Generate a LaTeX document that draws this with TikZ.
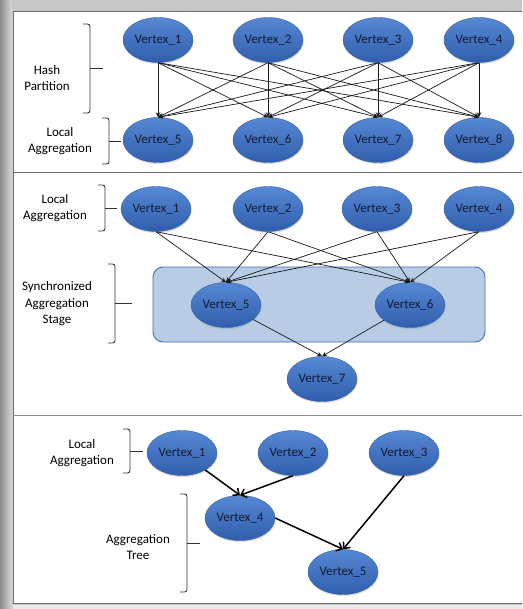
\documentclass[tikz,border=0pt]{standalone}
\usepackage{fontspec}
\setmainfont{Carlito}
\usetikzlibrary{arrows.meta,shapes.geometric,shadows}
\definecolor{vertextop}{RGB}{86,136,212}
\definecolor{vertexbottom}{RGB}{48,94,172}
\definecolor{vertexline}{RGB}{56,96,160}
\definecolor{vertextext}{RGB}{18,26,52}
\definecolor{stagefill}{RGB}{184,204,230}
\definecolor{stageline}{RGB}{70,112,170}
\definecolor{framegray}{RGB}{110,110,110}
\tikzset{
  vertex/.style={
    ellipse,
    minimum width=70pt,
    minimum height=45pt,
    inner sep=0pt,
    top color=vertextop,
    bottom color=vertexbottom,
    draw=vertexline,
    line width=0.4pt,
    text=vertextext,
    font=\fontsize{13}{15}\selectfont,
    drop shadow={opacity=0.25,shadow xshift=0.6pt,shadow yshift=-1.6pt}
  },
  thin-edge/.style={
    line width=0.7pt,
    black!90,
    -{Stealth[length=5pt,width=4.5pt]}
  },
  thick-edge/.style={
    line width=1.5pt,
    black,
    -{Straight Barb[length=5pt,width=9pt,line width=1.5pt]}
  },
  side-label/.style={
    align=center,
    inner sep=0pt,
    font=\fontsize{13}{16.5}\selectfont
  },
  bracket/.style={
    line width=0.9pt,
    black!80,
    rounded corners=2.5pt
  }
}
% bracket: x, top, bottom, tick end
\newcommand{\sidebracket}[4]{%
  \draw[bracket] (#1-7,#2) -- (#1,#2) -- (#1,#3) -- (#1-7,#3);
  \draw[bracket] (#1,{(#2+#3)/2}) -- (#4,{(#2+#3)/2});
}

\begin{document}
\begin{tikzpicture}[x=1pt,y=-1pt]
  \useasboundingbox (0,0) rectangle (522,609);
  % frame
  \fill[black!22] (0,0) rectangle (522,609);
  \shade[left color=black!45, right color=black!15] (0,0) rectangle (12,609);
  \fill[white] (13,11) rectangle (522,603);
  \draw[framegray, line width=0.8pt] (522,11) -- (13,11) -- (13,603) -- (522,603);
  \draw[framegray, line width=0.8pt] (13,172) -- (522,172);
  \draw[black!45, line width=0.8pt] (13,415) -- (522,415);
  \fill[black!8] (13,605) rectangle (522,609);

  % hash partition
  \node[side-label] (hashlbl) at (47,78) {Hash\\Partition};
  \node[side-label] (loc1lbl) at (60,141) {Local\\Aggregation};
  \sidebracket{90}{24}{113}{103}
  \sidebracket{109}{118}{164}{121}
  \foreach \i/\x in {1/158,2/268,3/378,4/479} {
    \node[vertex] (h\i) at (\x,40) {Vertex\_\i};
  }
  \foreach \i/\x in {5/158,6/268,7/378,8/479} {
    \node[vertex] (h\i) at (\x,140) {Vertex\_\i};
  }
  \foreach \s in {1,...,4} {
    \foreach \t in {5,...,8} {
      \draw[thin-edge] (h\s.south) -- (h\t.north);
    }
  }

  % synchronized stage
  \node[side-label] (loc2lbl) at (55,208) {Local\\Aggregation};
  \node[side-label] (synclbl) at (57,304) {Synchronized\\Aggregation\\Stage};
  \sidebracket{105}{185}{231}{117}
  \sidebracket{115}{264}{343}{132}
  \draw[fill=stagefill, draw=stageline, line width=0.9pt, rounded corners=10pt]
    (153,267) rectangle (485,342);
  \foreach \i/\x in {1/156,2/268,3/377,4/479} {
    \node[vertex] (s\i) at (\x,209) {Vertex\_\i};
  }
  \node[vertex] (s5) at (226,305) {Vertex\_5};
  \node[vertex] (s6) at (410,305) {Vertex\_6};
  \node[vertex] (s7) at (322,379) {Vertex\_7};
  \foreach \s in {1,...,4} {
    \foreach \t in {5,6} {
      \draw[thin-edge] (s\s.south) -- (s\t.north);
    }
  }
  \draw[thin-edge] (s5) -- (s7.north);
  \draw[thin-edge] (s6) -- (s7.north);

  % aggregation tree
  \node[side-label] (loc3lbl) at (82,453) {Local\\Aggregation};
  \node[side-label] (treelbl) at (138,547) {Aggregation\\Tree};
  \sidebracket{130}{429}{473}{143}
  \sidebracket{187}{494}{592}{200}
  \node[vertex] (t1) at (182,453) {Vertex\_1};
  \node[vertex] (t2) at (293,453) {Vertex\_2};
  \node[vertex] (t3) at (404,453) {Vertex\_3};
  \node[vertex] (t4) at (240,518) {Vertex\_4};
  \node[vertex] (t5) at (343,572) {Vertex\_5};
  \draw[thick-edge] (t1) -- (t4.north);
  \draw[thick-edge] (t2.south) -- (t4.north);
  \draw[thick-edge] (t4.east) -- (t5.north);
  \draw[thick-edge] (t3.south) -- (t5.north);
\end{tikzpicture}
\end{document}
